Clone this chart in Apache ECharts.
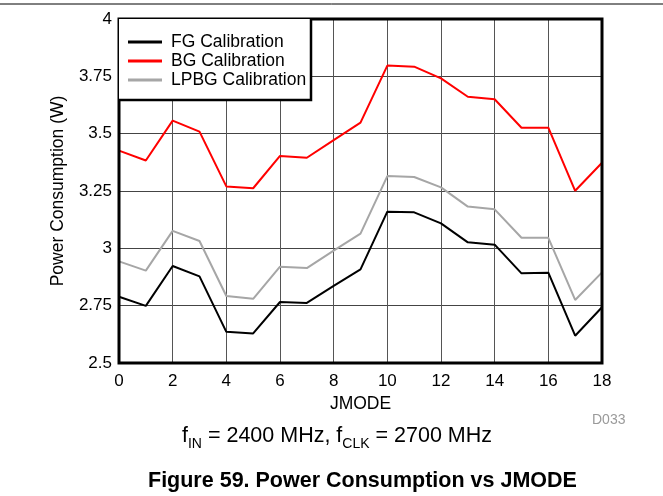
<!DOCTYPE html>
<html><head><meta charset="utf-8">
<script src="https://cdn.jsdelivr.net/npm/echarts@6/dist/echarts.min.js"></script>
<style>html,body{margin:0;padding:0;background:#fff}#c{width:663px;height:496px}</style>
</head><body><div id="c"></div>
<script>
const jmode = [0,1,2,3,4,5,6,7,8,9,10,11,12,13,14,15,16,17,18];
const fgCal = [2.789,2.749,2.923,2.878,2.636,2.629,2.766,2.762,2.836,2.908,3.16,3.157,3.109,3.026,3.016,2.891,2.894,2.619,2.743];
const bgCal = [3.426,3.383,3.557,3.509,3.27,3.262,3.403,3.395,3.472,3.548,3.797,3.792,3.741,3.661,3.65,3.526,3.526,3.251,3.373];
const lpbgCal = [2.943,2.903,3.076,3.032,2.792,2.78,2.92,2.914,2.99,3.064,3.315,3.311,3.266,3.182,3.17,3.046,3.046,2.775,2.895];
const yTicks = [2.5,2.75,3,3.25,3.5,3.75,4];
const seriesNames = ['FG Calibration','BG Calibration','LPBG Calibration'];
const pair = arr => jmode.map((x,i)=>[x,arr[i]]);
const font = 'Liberation Sans, Arial, sans-serif';
const chart = echarts.init(document.getElementById('c'), null, {renderer:'canvas'});
chart.setOption({
  animation:false,
  backgroundColor:'#fff',
  grid:{left:119,right:61,top:19,bottom:133,show:true,borderColor:'#000',borderWidth:3,backgroundColor:'transparent',z:6},
  xAxis:{type:'value',min:0,max:18,interval:2,
    name:'JMODE',nameLocation:'middle',nameGap:30,
    nameTextStyle:{fontFamily:font,fontSize:17.5,color:'#000'},
    axisLine:{show:false},axisTick:{show:false},
    axisLabel:{fontFamily:font,fontSize:17,color:'#000',margin:10},
    splitLine:{show:true,lineStyle:{color:'#555',width:1}}},
  yAxis:{type:'value',min:2.5,max:4,interval:0.25,
    name:'Power Consumption (W)',nameLocation:'middle',nameGap:52,
    nameTextStyle:{fontFamily:font,fontSize:17.5,color:'#000'},
    axisLine:{show:false},axisTick:{show:false},
    axisLabel:{fontFamily:font,fontSize:17,color:'#000',margin:7,
      formatter:v=>{const t=yTicks.find(k=>Math.abs(k-v)<1e-6);return String(t!==undefined?t:v);}},
    splitLine:{show:true,lineStyle:{color:'#444',width:1}}},
  legend:{show:true,left:123,top:28,orient:'vertical',itemGap:1,itemWidth:34,itemHeight:3,
    icon:'rect',z:10,
    textStyle:{fontFamily:font,fontSize:17.5,color:'#000',padding:[0,0,0,4]},
    data:seriesNames},
  graphic:[
    {type:'line',shape:{x1:0,y1:4,x2:663,y2:4},style:{stroke:'#000',lineWidth:1}},
    {type:'rect',z:8,shape:{x:119,y:19,width:192,height:81},style:{fill:'#fff',stroke:null}},
    {type:'polyline',z:9,shape:{points:[[119,100],[311,100],[311,19]]},style:{stroke:'#000',lineWidth:2.5,fill:null}},
    {type:'text',x:592,y:413,style:{text:'D033',font:'14px '+font,fill:'#9a9a9a'}},
    {type:'text',x:337,y:421,style:{
      text:'{a|f}{s|IN}{a| = 2400 MHz, f}{s|CLK}{a| = 2700 MHz}',
      align:'center',
      rich:{a:{fontFamily:font,fontSize:21.5,color:'#000',verticalAlign:'bottom',lineHeight:26},
            s:{fontFamily:font,fontSize:14,color:'#000',verticalAlign:'bottom',lineHeight:26,padding:[0,0,-4,0]}}}},
    {type:'text',x:148,y:470,style:{text:'Figure 59. Power Consumption vs JMODE',font:'bold 21.5px '+font,fill:'#000'}}
  ],
  series:[
    {name:seriesNames[0],type:'line',data:pair(fgCal),showSymbol:false,lineStyle:{color:'#000',width:2},itemStyle:{color:'#000'},z:5},
    {name:seriesNames[1],type:'line',data:pair(bgCal),showSymbol:false,lineStyle:{color:'#ff0000',width:2},itemStyle:{color:'#ff0000'},z:5},
    {name:seriesNames[2],type:'line',data:pair(lpbgCal),showSymbol:false,lineStyle:{color:'#a6a6a6',width:2},itemStyle:{color:'#a6a6a6'},z:4}
  ]
});
</script></body></html>
